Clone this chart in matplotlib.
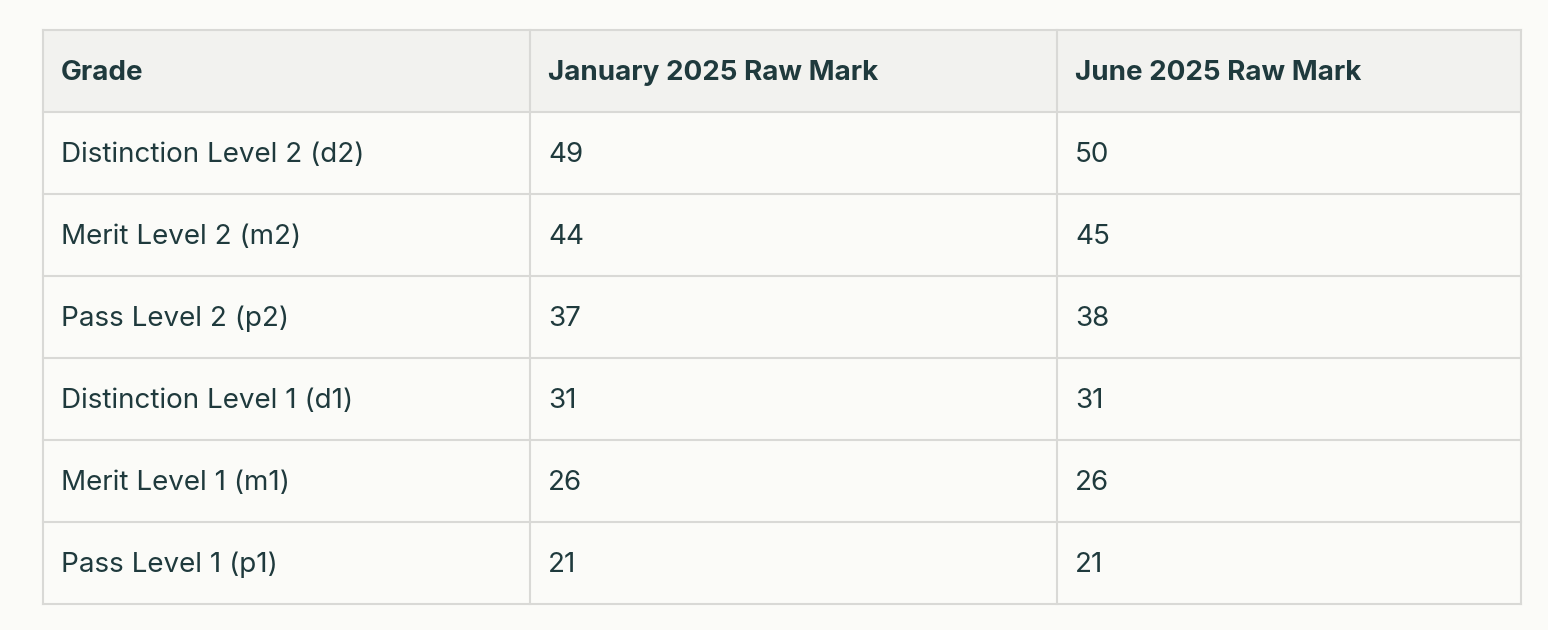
import matplotlib
matplotlib.use("Agg")
import matplotlib.pyplot as plt
from matplotlib.patches import Rectangle

headers = ["Grade", "January 2025 Raw Mark", "June 2025 Raw Mark"]
grades = ["Distinction Level 2 (d2)", "Merit Level 2 (m2)", "Pass Level 2 (p2)",
          "Distinction Level 1 (d1)", "Merit Level 1 (m1)", "Pass Level 1 (p1)"]
jan = [49, 44, 37, 31, 26, 21]
jun = [50, 45, 38, 31, 26, 21]

W, H = 1548, 630
fig = plt.figure(figsize=(W/100, H/100), dpi=100)
fig.patch.set_facecolor("#FBFBF8")
ax = fig.add_axes([0, 0, 1, 1])
ax.set_xlim(0, W); ax.set_ylim(H, 0); ax.axis("off")

col_x = [43, 530, 1057, 1521]
top, rh = 30, 82
border = "#D9D9D6"
txt = "#1F3A3D"
nrows = len(grades) + 1
ax.add_patch(Rectangle((col_x[0], top), col_x[-1]-col_x[0], rh, facecolor="#F2F2EF", edgecolor="none"))
for i in range(nrows + 1):
    ax.plot([col_x[0], col_x[-1]], [top + i*rh]*2, color=border, lw=1.5)
for x in col_x:
    ax.plot([x, x], [top, top + nrows*rh], color=border, lw=1.5)

fs = 20
for j, h in enumerate(headers):
    ax.text(col_x[j] + 18, top + rh/2 + 2, h, fontsize=fs, fontweight="bold", color=txt,
            va="center", ha="left", family=["Inter", "DejaVu Sans"])
for i, (g, a, b) in enumerate(zip(grades, jan, jun)):
    y = top + (i + 1)*rh + rh/2 + 2
    for j, v in enumerate([g, str(a), str(b)]):
        ax.text(col_x[j] + 18, y, v, fontsize=fs, color=txt, va="center", ha="left",
                family=["Inter", "DejaVu Sans"])

fig.savefig("out.png", dpi=100, facecolor=fig.get_facecolor())
